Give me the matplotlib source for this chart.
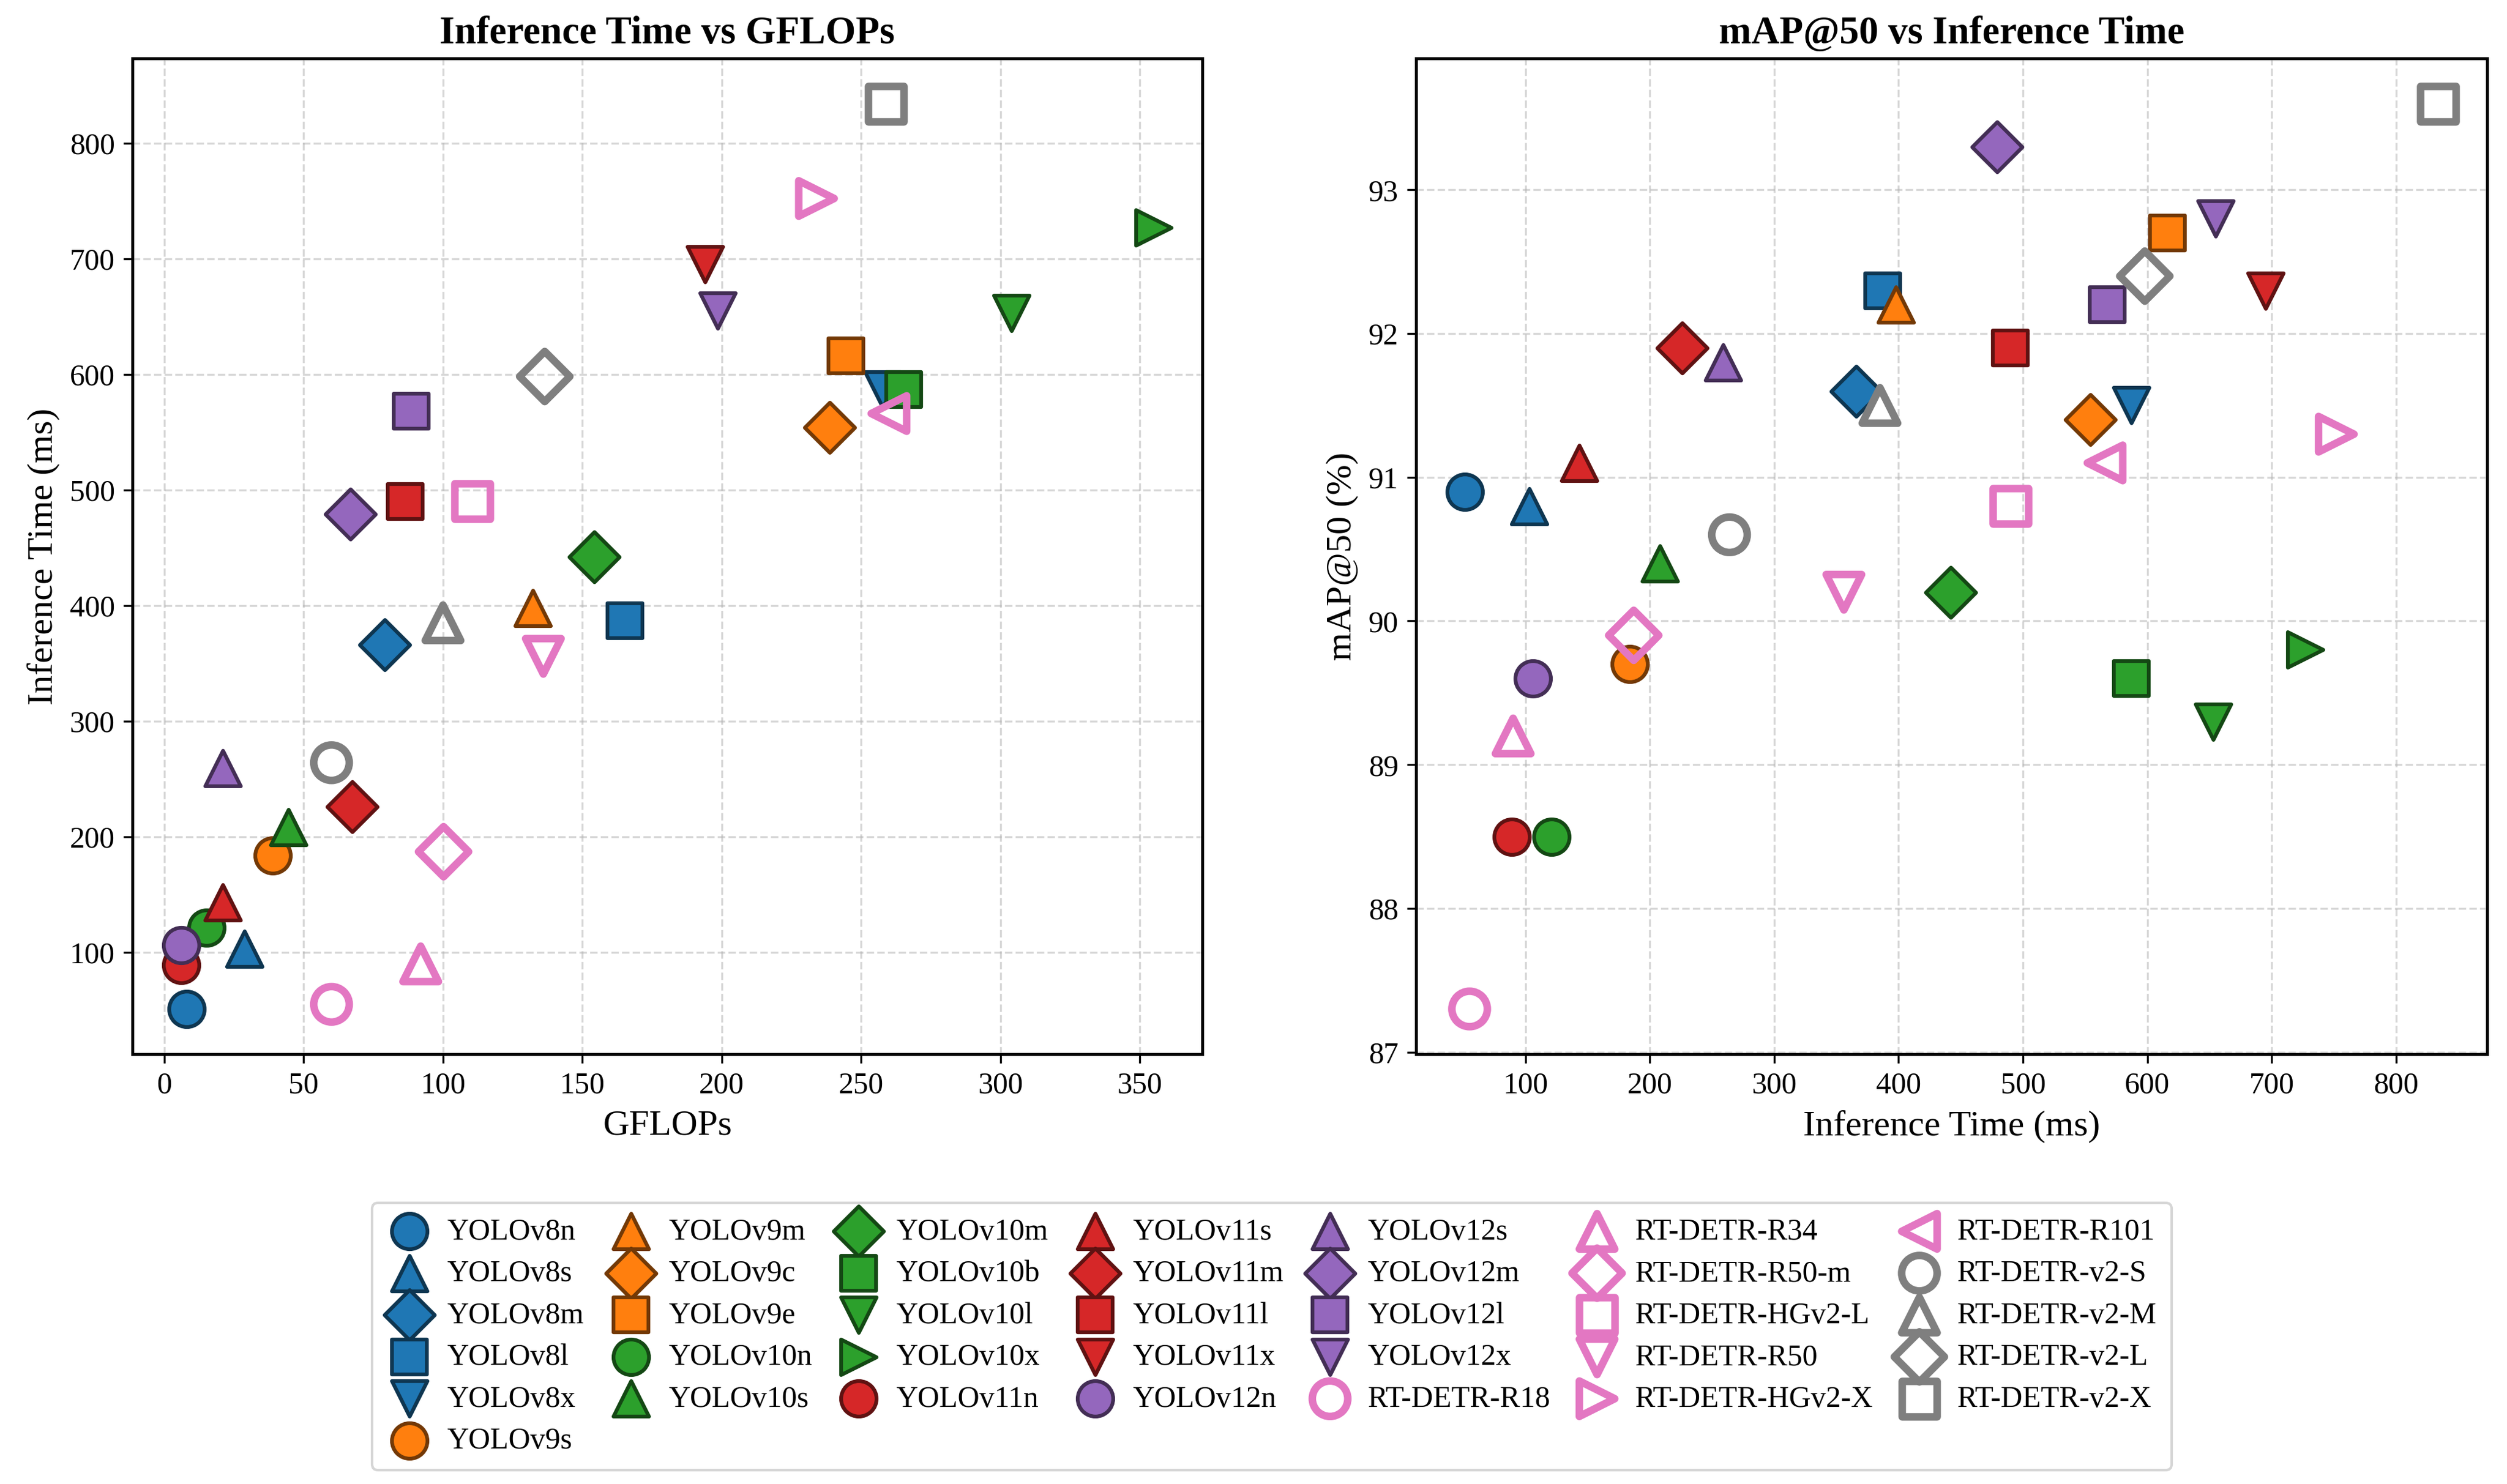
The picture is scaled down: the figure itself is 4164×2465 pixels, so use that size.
import numpy as np
import matplotlib
matplotlib.use('Agg')
import matplotlib.pyplot as plt
import matplotlib.colors as mcolors

plt.rcParams['font.family'] = ['Liberation Serif', 'DejaVu Serif']

# model data
models = ['YOLOv8n', 'YOLOv8s', 'YOLOv8m', 'YOLOv8l', 'YOLOv8x',
          'YOLOv9s', 'YOLOv9m', 'YOLOv9c', 'YOLOv9e',
          'YOLOv10n', 'YOLOv10s', 'YOLOv10m', 'YOLOv10b', 'YOLOv10l', 'YOLOv10x',
          'YOLOv11n', 'YOLOv11s', 'YOLOv11m', 'YOLOv11l', 'YOLOv11x',
          'YOLOv12n', 'YOLOv12s', 'YOLOv12m', 'YOLOv12l', 'YOLOv12x',
          'RT-DETR-R18', 'RT-DETR-R34', 'RT-DETR-R50-m', 'RT-DETR-HGv2-L',
          'RT-DETR-R50', 'RT-DETR-HGv2-X', 'RT-DETR-R101',
          'RT-DETR-v2-S', 'RT-DETR-v2-M', 'RT-DETR-v2-L', 'RT-DETR-v2-X']
family_sizes = [5, 4, 6, 5, 5, 7, 4]

gflops = [8.1, 28.7, 79.0, 165.2, 257.8,
          39.0, 132.2, 238.7, 244.5,
          15.2, 44.5, 154.3, 265.3, 304.0, 355.0,
          6.0, 20.9, 67.4, 86.5, 194.0,
          6.0, 20.9, 66.8, 88.5, 198.5,
          60.0, 92.0, 100.2, 110.5, 136.0, 234.0, 260.0,
          60.0, 100.0, 136.5, 259.0]

infer_ms = [51, 103, 366, 387, 587,
            184, 398, 554, 616,
            121, 208, 442, 587, 653, 727,
            89, 143, 226, 490, 695,
            106, 259, 479, 568, 655,
            55, 90, 187, 490, 356, 752, 566,
            264, 385, 598, 834]

map50 = [90.9, 90.8, 91.6, 92.3, 91.5,
         89.7, 92.2, 91.4, 92.7,
         88.5, 90.4, 90.2, 89.6, 89.3, 89.8,
         88.5, 91.1, 91.9, 91.9, 92.3,
         89.6, 91.8, 93.3, 92.2, 92.8,
         87.3, 89.2, 89.9, 90.8, 90.2, 91.3, 91.1,
         90.6, 91.5, 92.4, 93.6]

family_colors = ['#1f77b4', '#ff7f0e', '#2ca02c', '#d62728', '#9467bd', '#e377c2', '#7f7f7f']
family_hollow = [False, False, False, False, False, True, True]
marker_cycle = ['o', '^', 'D', 's', 'v', '>', '<']

fig = plt.figure(figsize=(13.88, 8.217), dpi=300)
ax1 = fig.add_axes([0.0528, 0.2896, 0.4268, 0.671])
ax2 = fig.add_axes([0.5648, 0.2896, 0.4272, 0.671])

handles = []
i = 0
for f, n in enumerate(family_sizes):
    col = family_colors[f]
    dark = np.array(mcolors.to_rgb(col)) * 0.45
    for k in range(n):
        if family_hollow[f]:
            kw = dict(facecolors='none', edgecolors=col, linewidths=3.0)
        else:
            kw = dict(c=col, edgecolors=[dark], linewidths=1.5)
        h = ax1.scatter(gflops[i], infer_ms[i], s=200, marker=marker_cycle[k],
                        label=models[i], **kw)
        ax2.scatter(infer_ms[i], map50[i], s=200, marker=marker_cycle[k], **kw)
        handles.append(h)
        i += 1

ax1.set_title('Inference Time vs GFLOPs', fontsize=15.5, fontweight='bold')
ax1.set_xlabel('GFLOPs', fontsize=14.5)
ax1.set_ylabel('Inference Time (ms)', fontsize=14.5)
ax2.set_title('mAP@50 vs Inference Time', fontsize=15.5, fontweight='bold')
ax2.set_xlabel('Inference Time (ms)', fontsize=14.5)
ax2.set_ylabel('mAP@50 (%)', fontsize=14.5)

for ax in (ax1, ax2):
    ax.grid(True, linestyle='--', alpha=0.5)
    ax.set_axisbelow(True)
    ax.tick_params(labelsize=12)
    for sp in ax.spines.values():
        sp.set_linewidth(1.2)

fig.legend(handles=handles, loc='upper center', bbox_to_anchor=(0.5073, 0.1996),
           ncol=7, fontsize=12, labelspacing=0.46, handlelength=1.5,
           handletextpad=0.5, columnspacing=0.8, borderpad=0.5)

fig.savefig('out.png', dpi=300)
